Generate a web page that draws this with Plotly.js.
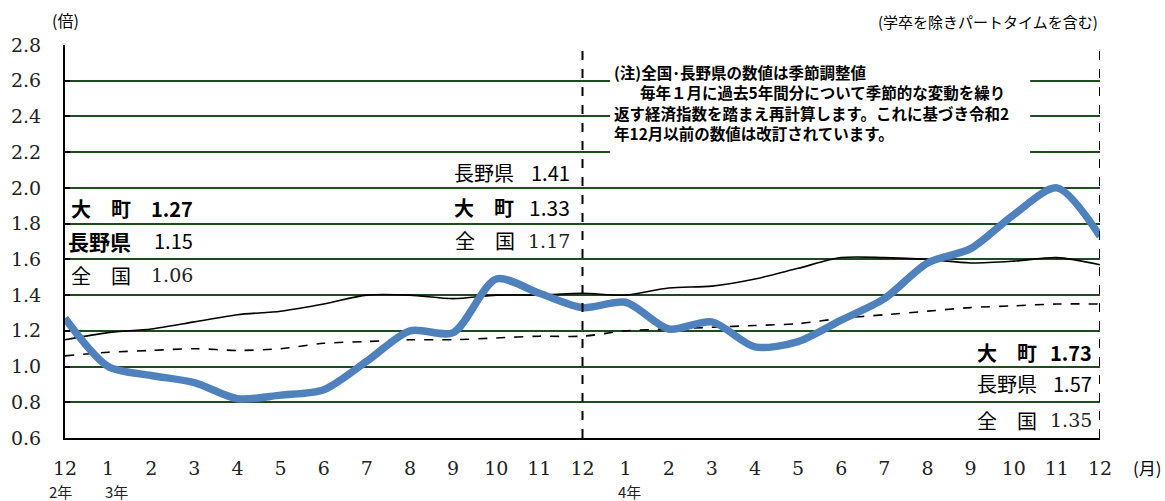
<!DOCTYPE html>
<html>
<head>
<meta charset="utf-8">
<script src="https://cdn.plot.ly/plotly-3.0.1.min.js"></script>
<style>html,body{margin:0;padding:0;background:#fff;}#chart{width:1165px;height:501px;}</style>
</head>
<body>
<div id="chart"></div>
<script>
// months: Dec R2 (index 0) ... Dec R4 (index 24)
const monthLabels = ["12","1","2","3","4","5","6","7","8","9","10","11","12","1","2","3","4","5","6","7","8","9","10","11","12"];
const yearLabels = ["2年","3年","4年"];
const yearPositions = [0, 1, 13];
const seriesNames = ["大　町","長野県","全　国"];
const omachi  = [1.27,1.00,0.95,0.91,0.82,0.84,0.87,1.03,1.20,1.19,1.49,1.41,1.33,1.36,1.21,1.25,1.11,1.14,1.26,1.38,1.58,1.66,1.85,2.00,1.73];
const nagano  = [1.15,1.19,1.21,1.25,1.29,1.31,1.35,1.40,1.40,1.38,1.40,1.40,1.41,1.40,1.44,1.45,1.49,1.55,1.61,1.61,1.60,1.58,1.59,1.61,1.57];
const zenkoku = [1.06,1.08,1.09,1.10,1.09,1.10,1.13,1.14,1.15,1.15,1.16,1.17,1.17,1.20,1.21,1.22,1.23,1.24,1.27,1.29,1.31,1.33,1.34,1.35,1.35];
const noteLines = [
  "(注)全国･長野県の数値は季節調整値",
  "毎年１月に過去5年間分について季節的な変動を繰り",
  "返す経済指数を踏まえ再計算します。これに基づき令和2",
  "年12月以前の数値は改訂されています。"
];

const xs = monthLabels.map((_, i) => i);
const SANS = "Noto Sans CJK JP, sans-serif";
const SERIF = "DejaVu Serif, Liberation Serif, serif";

const traces = [
  {x: xs, y: zenkoku, mode: "lines", line: {color: "#000", width: 1.6, dash: "dash", shape: "spline", smoothing: 0.8}, hoverinfo: "skip"},
  {x: xs, y: nagano, mode: "lines", line: {color: "#000", width: 1.6, shape: "spline", smoothing: 0.8}, hoverinfo: "skip"},
  {x: xs, y: omachi, mode: "lines", line: {color: "#4F81BD", width: 7.5, shape: "spline", smoothing: 0.8}, hoverinfo: "skip"}
];

function lbl(x, y, text, opts) {
  return Object.assign({x: x, y: y, xref: "x", yref: "y", text: text, showarrow: false,
    xanchor: "left", yanchor: "middle", font: {family: SANS, size: 20, color: "#000"}}, opts || {});
}
const f2 = v => v.toFixed(2);
const ann = [];
// left block (Dec R2)
ann.push(lbl(0.1, 1.887, "<b>" + seriesNames[0] + "</b>"));
ann.push(lbl(3.02, 1.887, "<b>" + f2(omachi[0]) + "</b>", {xanchor: "right"}));
ann.push(lbl(0.03, 1.703, "<b>" + seriesNames[1] + "</b>", {font: {family: SANS, size: 21, color: "#000"}}));
ann.push(lbl(3.02, 1.703, f2(nagano[0]), {xanchor: "right"}));
ann.push(lbl(0.1, 1.512, seriesNames[2]));
ann.push(lbl(3.02, 1.512, f2(zenkoku[0]), {xanchor: "right", font: {family: SERIF, size: 19, color: "#222"}}));
// middle block (Dec R3)
ann.push(lbl(8.97, 2.089, seriesNames[1]));
ann.push(lbl(11.75, 2.089, f2(nagano[12]), {xanchor: "right"}));
ann.push(lbl(8.97, 1.893, "<b>" + seriesNames[0] + "</b>"));
ann.push(lbl(11.75, 1.893, f2(omachi[12]), {xanchor: "right", font: {family: SANS, size: 21, color: "#000"}}));
ann.push(lbl(9.0, 1.703, seriesNames[2]));
ann.push(lbl(11.75, 1.703, f2(zenkoku[12]), {xanchor: "right", font: {family: SERIF, size: 19, color: "#222"}}));
// right block (Dec R4)
ann.push(lbl(21.1, 1.081, "<b>" + seriesNames[0] + "</b>"));
ann.push(lbl(23.85, 1.081, "<b>" + f2(omachi[24]) + "</b>", {xanchor: "right"}));
ann.push(lbl(21.1, 0.907, seriesNames[1]));
ann.push(lbl(23.85, 0.907, f2(nagano[24]), {xanchor: "right"}));
ann.push(lbl(21.1, 0.700, seriesNames[2]));
ann.push(lbl(23.85, 0.700, f2(zenkoku[24]), {xanchor: "right", font: {family: SERIF, size: 19, color: "#222"}}));
// note
const noteY = [2.650, 2.536, 2.421, 2.306];
const noteX = [12.68, 13.28, 12.68, 12.68];
noteLines.forEach((t, i) => ann.push(lbl(noteX[i], noteY[i], "<b>" + t + "</b>", {font: {family: SANS, size: 15.5, color: "#000"}})));
// year labels under axis
const yearOffsets = [-0.1, 0.2, 0.1];
yearLabels.forEach((t, i) => ann.push({x: (yearPositions[i] + yearOffsets[i]) / 24, y: -0.137, xref: "paper", yref: "paper", text: t,
  showarrow: false, xanchor: "center", yanchor: "middle", font: {family: SANS, size: 15, color: "#222"}}));
// units
ann.push({x: 0, y: 1.063, xref: "paper", yref: "paper", text: "(倍)", showarrow: false, xanchor: "center", yanchor: "middle",
  font: {family: SANS, size: 16, color: "#000"}});
ann.push({x: 1.0, y: 1.06, xref: "paper", yref: "paper", text: "(学卒を除きパートタイムを含む)", showarrow: false, xanchor: "right", yanchor: "middle",
  font: {family: SANS, size: 15, color: "#000"}});
ann.push({x: 1.046, y: -0.074, xref: "paper", yref: "paper", text: "(月)", showarrow: false, xanchor: "center", yanchor: "middle",
  font: {family: SANS, size: 17, color: "#000"}});

const shapes = [
  {type: "rect", xref: "x", yref: "y", x0: 12.64, x1: 22.38, y0: 2.128, y1: 2.744, fillcolor: "#fff", line: {width: 0}, layer: "above"},
  {type: "line", xref: "x", yref: "paper", x0: 12, x1: 12, y0: 0, y1: 1, line: {color: "#000", width: 2, dash: "dash"}, layer: "above"},
  {type: "line", xref: "x", yref: "paper", x0: 24, x1: 24, y0: 0, y1: 1, line: {color: "#000", width: 2, dash: "dash"}, layer: "above"}
];

const layout = {
  width: 1165, height: 501,
  margin: {l: 65, r: 65, t: 45, b: 63},
  paper_bgcolor: "#fff", plot_bgcolor: "#fff",
  showlegend: false,
  xaxis: {range: [0, 24], tickvals: xs, ticktext: monthLabels, showgrid: false, zeroline: false,
    showline: true, linecolor: "#000", linewidth: 2, ticks: "", ticklabelstandoff: 12,
    tickfont: {family: SERIF, size: 19, color: "#222"}, fixedrange: true},
  yaxis: {range: [0.6, 2.8], dtick: 0.2, tick0: 0.6, tickformat: ".1f", showgrid: true, gridcolor: "#1d4d1d", gridwidth: 2,
    zeroline: false, showline: true, linecolor: "#000", linewidth: 2, ticks: "inside", ticklen: 5, tickwidth: 2, tickcolor: "#000",
    ticklabelstandoff: 18, tickfont: {family: SERIF, size: 19, color: "#222"}, fixedrange: true},
  annotations: ann,
  shapes: shapes
};

Plotly.newPlot("chart", traces, layout, {displayModeBar: false, staticPlot: true});
</script>
</body>
</html>
